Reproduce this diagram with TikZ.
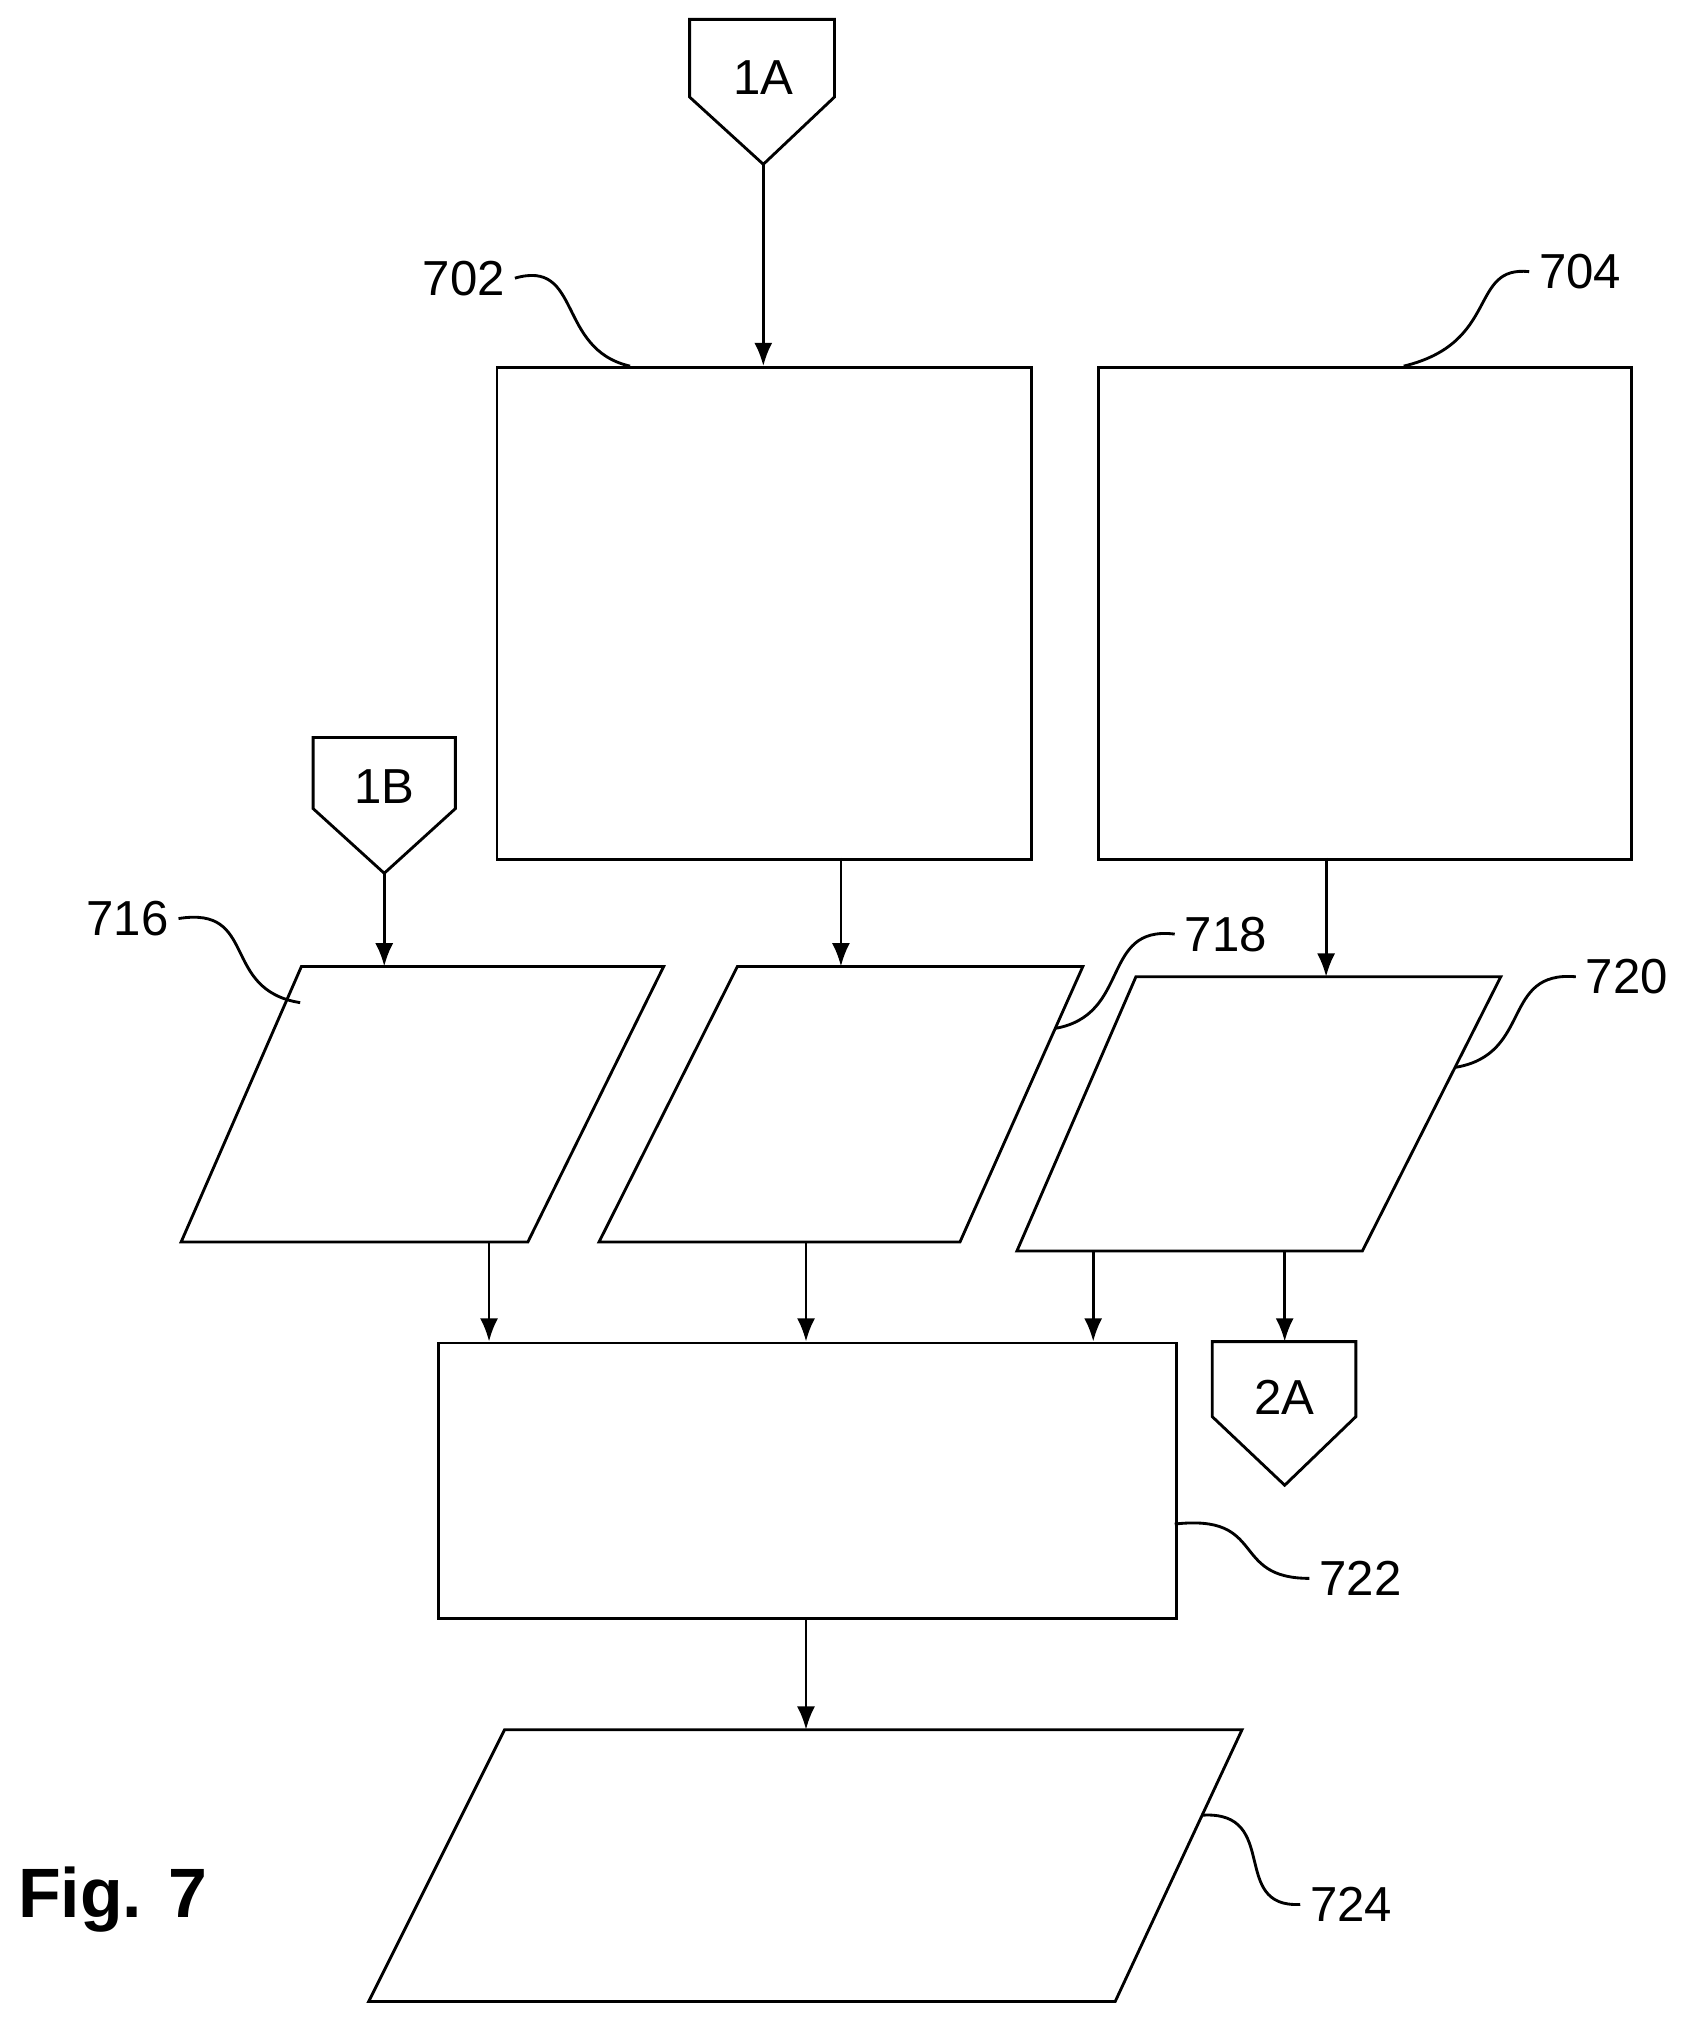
\documentclass[tikz,border=0pt]{standalone}
\usepackage{fontspec}
\setmainfont{Liberation Sans}
\usetikzlibrary{arrows.meta,positioning}
\tikzset{every picture/.style={line width=1.1pt}}
\tikzset{
  flow/.style={-{Latex[length=9pt,width=7pt]}},
  ref/.style={font=\fontsize{19}{19}\selectfont},
  box/.style={draw,rectangle,inner sep=0pt}
}
\begin{document}
\begin{tikzpicture}[x=0.5pt,y=0.5pt,yscale=-1,xscale=1]
\useasboundingbox (0,0) rectangle (1300,1566);

%Shape: Rectangle 702
\node [box,minimum width=206.5pt,minimum height=190pt,anchor=north west] (b702) at (383,283) {};
%Shape: Rectangle 704
\node [box,minimum width=206pt,minimum height=190pt,anchor=north west] (b704) at (848,283) {};
%Shape: Rectangle 722
\node [box,minimum width=285pt,minimum height=106.5pt,anchor=north west] (b722) at (338,1037) {};

%Shape: Parallelograms
\draw (233,747) coordinate (p716) -- (513,747) -- (408,960) -- (140,960) -- cycle ;
\draw (570,747) coordinate (p718) -- (837,747) -- (742,960) -- (463,960) -- cycle ;
\draw (878,755) coordinate (p720) -- (1160,755) -- (1053,967) -- (786,967) -- cycle ;
\draw (390,1337) coordinate (p724) -- (960,1337) -- (862,1547) -- (285,1547) -- cycle ;

%Shape: Off-page connectors
\draw (533,15) -- (645,15) -- (645,75) -- (590,127) coordinate (c1A) -- (533,75) -- cycle ;
\node [ref] (t1A) at (590,60) {1A};
\draw (242,570) -- (352,570) -- (352,625) -- (297,675) coordinate (c1B) -- (242,625) -- cycle ;
\node [ref] (t1B) at (297,608) {1B};
\draw (937,1037) coordinate (c2A) -- (1048,1037) -- (1048,1095) -- (993,1148) -- (937,1095) -- cycle ;
\node [ref] (t2A) at (993,1080) {2A};

%Straight Lines: arrows
\draw [flow] (c1A) -- (590,283) ;
\draw [flow] (c1B) -- (297,747) ;
\draw [flow] (650,663) -- (650,747) ;
\draw [flow] (1025,663) -- (1025,755) ;
\draw [flow] (378,960) -- (378,1037) ;
\draw [flow] (623,960) -- (623,1037) ;
\draw [flow] (845,967) -- (845,1037) ;
\draw [flow] (993,967) -- (993,1037) ;
\draw [flow] (623,1250) -- (623,1337) ;

% Reference labels
\node [ref,anchor=east] (l702) at (398,215) {702};
\draw (l702.east) .. controls (450,200) and (430,270) .. (487,283) ;
\node [ref,anchor=west] (l704) at (1182,210) {704};
\draw (l704.west) .. controls (1135,205) and (1160,265) .. (1085,283) ;
\node [ref,anchor=east] (l716) at (138,710) {716};
\draw (l716.east) .. controls (200,700) and (170,765) .. (232,775) ;
\node [ref,anchor=west] (l718) at (908,722) {718};
\draw (l718.west) .. controls (850,715) and (875,785) .. (815,795) ;
\node [ref,anchor=west] (l720) at (1218,755) {720};
\draw (l720.west) .. controls (1160,750) and (1185,815) .. (1125,825) ;
\node [ref,anchor=west] (l722) at (1012,1220) {722};
\draw (908,1178) .. controls (980,1170) and (950,1220) .. (l722.west) ;
\node [ref,anchor=west] (l724) at (1005,1472) {724};
\draw (930,1403) .. controls (990,1400) and (950,1475) .. (l724.west) ;

% Text Node
\node [font=\fontsize{27}{27}\selectfont\bfseries] (fig) at (87,1468) {Fig. 7};
\end{tikzpicture}
\end{document}
